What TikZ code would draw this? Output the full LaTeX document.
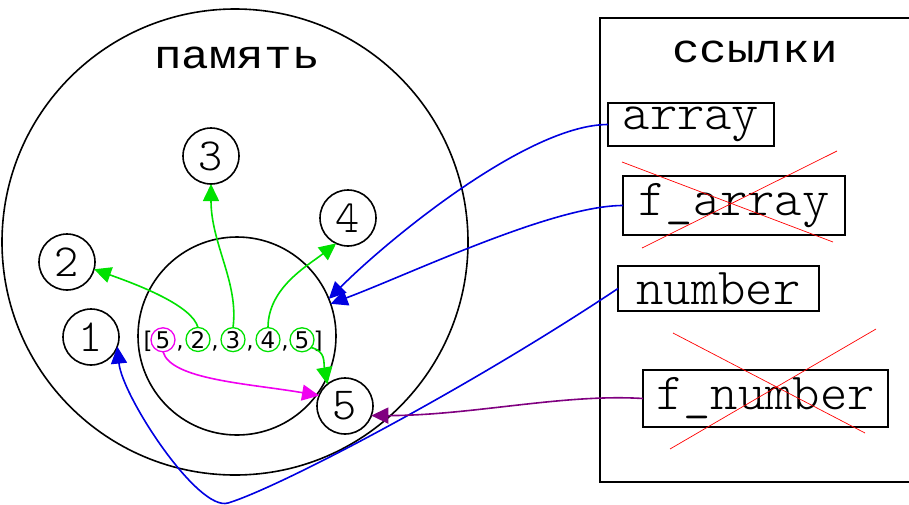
\documentclass[tikz,border=0pt]{standalone}
\usepackage{fontspec}
\newfontfamily\cyrmono[FakeStretch=1.15]{Liberation Mono}
\newfontfamily\latmono{Latin Modern Mono Light}
\newfontfamily\lsans{DejaVu Sans}
\usetikzlibrary{arrows.meta}

\definecolor{lgreen}{RGB}{0,225,0}
\definecolor{lmag}{RGB}{240,0,240}
\definecolor{lblue}{RGB}{0,0,225}
\definecolor{lpurple}{RGB}{128,0,128}

\begin{document}
\begin{tikzpicture}[x=1pt,y=-1pt,
  every node/.style={inner sep=0pt, outer sep=0pt},
  ring/.style={circle, draw, line width=1.6pt},
  num/.style={ring, minimum size=56pt, font=\latmono\fontsize{46}{46}\selectfont},
  cyrword/.style={font=\cyrmono\fontsize{40}{40}\selectfont},
  refbox/.style={draw, line width=1.6pt, font=\latmono\fontsize{52}{52}\selectfont},
  elem/.style={anchor=base, font=\lsans\fontsize{23}{23}\selectfont},
  elring/.style={elem, circle, draw, line width=1.3pt, minimum size=24pt},
  arr/.style={line width=1.6pt, -{Triangle[length=17pt,width=16pt]}},
  cross/.style={red, line width=0.7pt}
]
\useasboundingbox (0,0) rectangle (909,504);

% memory area
\node[ring, minimum size=466pt] (mem) at (235,242) {};
\node[cyrword] (memlbl) at (237,58) {память};

% list object
\node[ring, minimum size=198pt] (lst) at (237,336) {};
\node[elem] (lb) at (148,348) {[};
\node[elring, lmag] (e1) at (163,348) {\textcolor{black}{5}};
\node[elem] (c1) at (180,348) {,};
\node[elring, lgreen] (e2) at (198,348) {\textcolor{black}{2}};
\node[elem] (c2) at (215,348) {,};
\node[elring, lgreen] (e3) at (233,348) {\textcolor{black}{3}};
\node[elem] (c3) at (250,348) {,};
\node[elring, lgreen] (e4) at (268,348) {\textcolor{black}{4}};
\node[elem] (c4) at (285,348) {,};
\node[elring, lgreen] (e5) at (302,348) {\textcolor{black}{5}};
\node[elem] (rb) at (318,348) {]};

% integer objects
\node[num] (n1) at (91,337) {1};
\node[num] (n2) at (67,262) {2};
\node[num] (n3) at (211,156) {3};
\node[num] (n4) at (348,218) {4};
\node[num] (n5) at (345,406) {5};

% references panel
\draw[line width=1.6pt] (920,18) -- (600,18) -- (600,482) -- (920,482);
\node[cyrword] (reflbl) at (755,52) {ссылки};

\node[refbox, minimum width=166pt, minimum height=43pt] (ar) at (691,124.5) {array};
\node[refbox, minimum width=222pt, minimum height=59pt] (fa) at (734,205.5) {f\_array};
\node[refbox, minimum width=201pt, minimum height=45pt] (nb) at (718.5,288.5) {number};
\node[refbox, minimum width=245pt, minimum height=57pt] (fn) at (765.5,398.5) {f\_number};

% crossed-out local names
\draw[cross] (622,162) -- (833,242);
\draw[cross] (642,248) -- (837,151);
\draw[cross] (673,333) -- (865,433);
\draw[cross] (670,449) -- (876,329);

% list items point to integers
\draw[arr, lgreen] (e2.north) .. controls +(-6,-22) and +(45,16) .. (n2.-15);
\draw[arr, lgreen] (e3.north) .. controls +(6,-45) and +(0,60) .. (n3.south);
\draw[arr, lgreen] (e4.north) .. controls +(0,-40) and +(-28,22) .. (n4.-115);
\draw[arr, lgreen] (e5.-40) .. controls +(15,4) and +(-4,-22) .. (n5.129);
\draw[arr, lmag] (e1.south) .. controls +(8,28) and +(-70,-12) .. (n5.158);

% references point into memory
\draw[arr, lblue] (ar.west) .. controls +(-80,0) and +(60,-60) .. (lst.22);
\draw[arr, lblue] (fa.west) .. controls +(-70,0) and +(80,-30) .. (lst.19);
\coordinate (nbot) at (228,503);
\draw[arr, lblue] (nb.west) .. controls +(-150,100) and +(50,-15) .. (nbot)
  .. controls +(-30,9) and +(5,50) .. (n1.-20);
\draw[arr, lpurple] (fn.west) .. controls +(-80,-5) and +(100,0) .. (n5.-20);
\end{tikzpicture}
\end{document}
